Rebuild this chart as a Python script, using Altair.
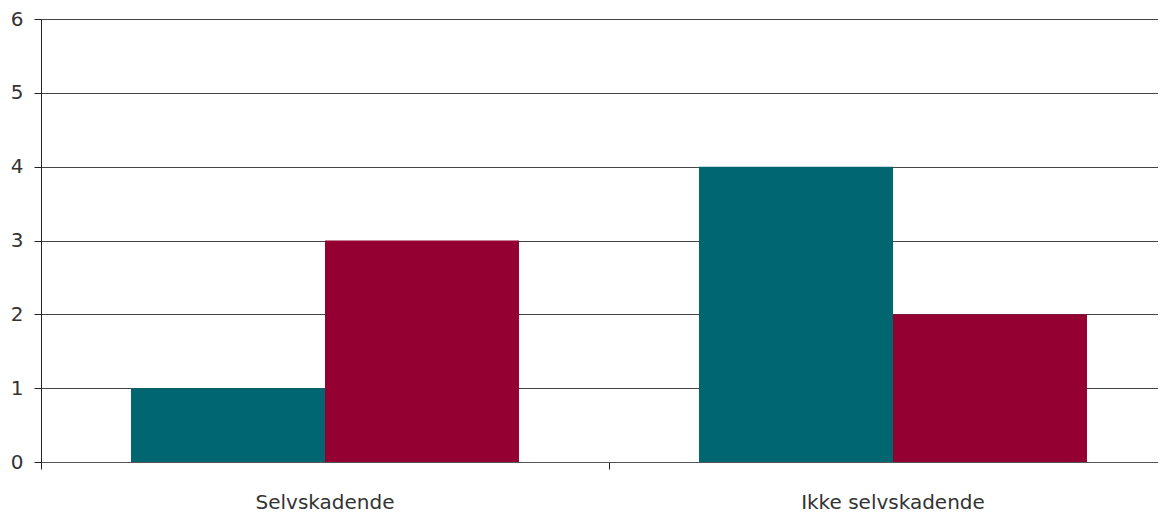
import altair as alt
import pandas as pd

categories = ["Selvskadende", "Selvskadende", "Ikke selvskadende", "Ikke selvskadende"]
series = ["A", "B", "A", "B"]
values = [1, 3, 4, 2]

df = pd.DataFrame({"kategori": categories, "serie": series, "verdi": values})

FONT = "DejaVu Sans"

chart = alt.Chart(df).mark_bar().encode(
    x=alt.X("kategori:N", sort=["Selvskadende", "Ikke selvskadende"],
            scale=alt.Scale(paddingInner=0, paddingOuter=0, range=[0, 1136]),
            axis=alt.Axis(title=None, labelAngle=0, bandPosition=0, labelLimit=0,
                          tickSize=7, tickColor="#222222", domainColor="#555555",
                          labelFontSize=20, labelColor="#333333", labelFont=FONT,
                          labelPadding=23, grid=False)),
    xOffset=alt.XOffset("serie:N", scale=alt.Scale(paddingOuter=0.464, paddingInner=0)),
    y=alt.Y("verdi:Q", scale=alt.Scale(domain=[0, 6]),
            axis=alt.Axis(title=None, values=[0, 1, 2, 3, 4, 5, 6], tickSize=7,
                          tickColor="#222222", domainColor="#222222", gridColor="#444444",
                          gridWidth=1, labelFontSize=20, labelColor="#333333",
                          labelFont=FONT, labelPadding=11)),
    color=alt.Color("serie:N", scale=alt.Scale(domain=["A", "B"], range=["#006670", "#950033"]),
                    legend=None),
).properties(
    width=1117, height=443,
    autosize=alt.AutoSizeParams(type="none"),
    padding={"left": 33, "top": 11, "right": 0, "bottom": 50}
).configure_view(stroke=None).configure_axis(gridOpacity=1)

chart.save("out.html", embed_options={"renderer": "svg", "actions": False})
